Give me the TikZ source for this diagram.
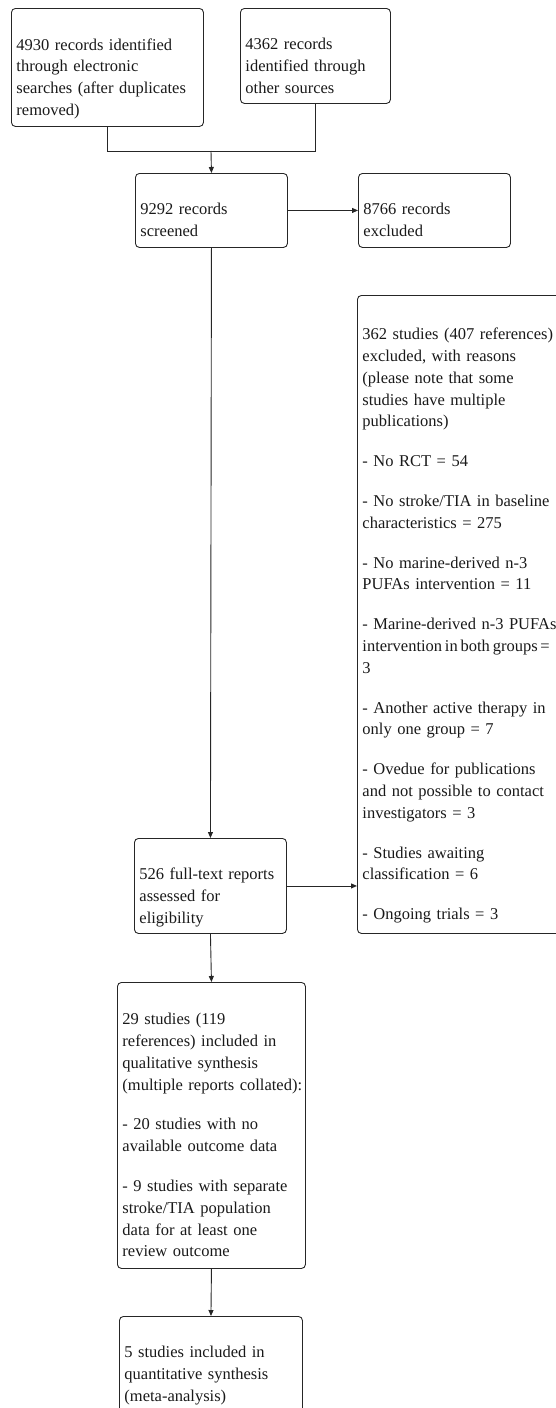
\documentclass[tikz,border=0pt]{standalone}
\usepackage{fontspec}
\setmainfont{Liberation Serif}
\usetikzlibrary{arrows.meta}
\begin{document}
\begin{tikzpicture}[x=1pt,y=-1pt,
  box/.style={draw=black!85, line width=0.9pt, rounded corners=4pt, anchor=north west,
    align=left, inner xsep=5pt, inner ysep=0pt,
    font=\fontsize{16.5}{21.8}\selectfont, text=black!90},
  conn/.style={draw=black!85, line width=0.9pt},
  arr/.style={conn, -{Triangle[length=6pt,width=5pt]}}]
\useasboundingbox (0,0) rectangle (556,1408);
\node[box, text width=182pt, minimum height=118pt] (b1) at (11,8)
  {\strut\\4930 records identified\\through electronic\\searches (after duplicates\\removed)\strut};
\node[box, text width=140pt, minimum height=95pt] (b2) at (240,8)
  {\strut\\4362 records\\identified through\\other sources\strut};
\node[box, text width=142pt, minimum height=74pt] (b3) at (135,173)
  {\strut\\9292 records\\screened\strut};
\node[box, text width=142pt, minimum height=74pt] (b4) at (358,173)
  {\strut\\8766 records\\excluded\strut};
\node[box, text width=215pt, minimum height=638pt] (b6) at (357,295)
  {\strut\\362 studies (407 references)\\excluded, with reasons\\(please note that some\\studies have multiple\\publications)\\[18pt]
   - No RCT = 54\\[18pt]
   - No stroke/TIA in baseline\\characteristics = 275\\[18pt]
   - No marine-derived n-3\\PUFAs intervention = 11\\[18pt]
   - Marine-derived n-3 PUFAs\\\mbox{\spaceskip=2.8pt intervention in both groups =}\\3\\[18pt]
   - Another active therapy in\\only one group = 7\\[18pt]
   - Ovedue for publications\\and not possible to contact\\investigators = 3\\[18pt]
   - Studies awaiting\\classification = 6\\[18pt]
   - Ongoing trials = 3\strut};
\node[box, text width=142pt, minimum height=95pt] (b5) at (134,838)
  {\strut\\526 full-text reports\\assessed for\\eligibility\strut};
\node[box, text width=178pt, minimum height=286pt] (b7) at (117,982)
  {\strut\\29 studies (119\\references) included in\\qualitative synthesis\\\mbox{(multiple reports collated):}\\[18pt]
   - 20 studies with no\\available outcome data\\[18pt]
   - 9 studies with separate\\stroke/TIA population\\data for at least one\\review outcome\strut};
\node[box, text width=173pt, minimum height=96pt] (b8) at (119,1316)
  {\strut\\5 studies included in\\quantitative synthesis\\(meta-analysis)\strut};
\coordinate (m) at (211,151);
\draw[conn] (b1.south) -- (b1.south |- m) -- (b2.south |- m) -- (b2.south);
\draw[arr] (m) -- (b3.north);
\draw[arr] (b3.east) -- (b4.west);
\draw[arr] (b3.south) -- (b5.north);
\draw[arr] (b5.east) -- (b5.east -| b6.west);
\draw[arr] (b5.south) -- (b7.north);
\draw[arr] (b7.south) -- (b8.north);
\end{tikzpicture}
\end{document}
